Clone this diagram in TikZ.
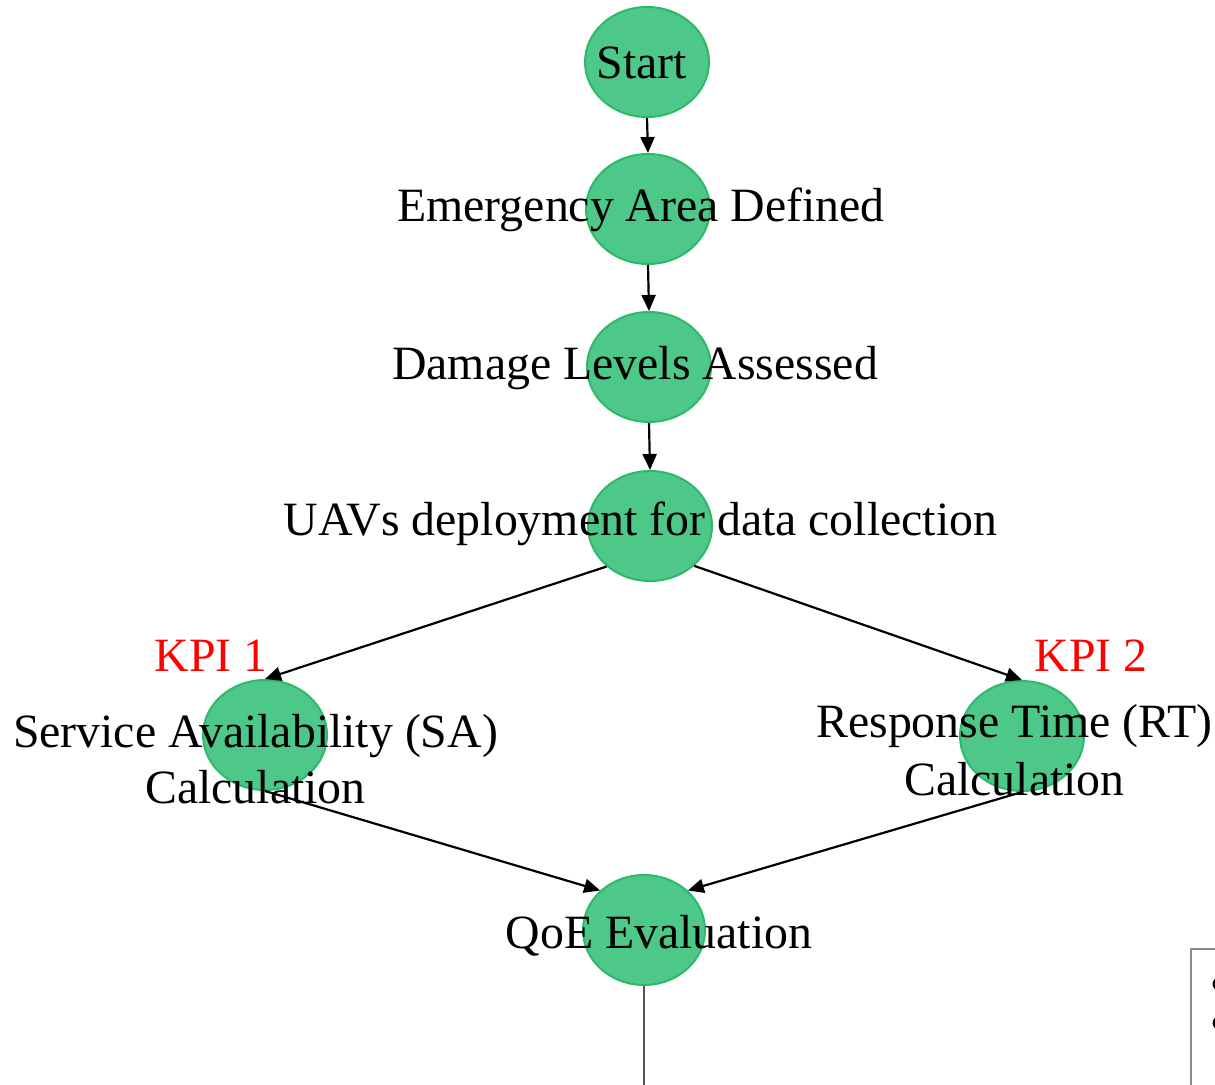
\documentclass[tikz,border=0pt]{standalone}
\usepackage{fontspec}
\setmainfont{Liberation Serif}
\usetikzlibrary{arrows.meta,shapes.geometric}
\definecolor{nodefill}{RGB}{77,200,136}
\definecolor{nodeline}{RGB}{46,184,106}
\definecolor{boxline}{RGB}{140,140,140}
\definecolor{stemline}{RGB}{85,85,85}
\tikzset{
  flownode/.style={ellipse, draw=nodeline, fill=nodefill, line width=2pt,
    minimum width=124pt, minimum height=110pt, inner sep=0pt},
  lbl/.style={anchor=base, inner sep=0pt, font=\fontsize{47.8}{56}\selectfont},
  kpi/.style={lbl, text=red},
  flowarrow/.style={draw=black, line width=2.2pt, -{Triangle[length=16pt,width=14pt]}},
}
\begin{document}
\begin{tikzpicture}[x=1pt,y=1pt]
\useasboundingbox (0,0) rectangle (1215,-1084);
\clip (0,0) rectangle (1215,-1084);
% nodes (circles)
\node[flownode] (start) at (647,-62) {};
\node[flownode] (emer) at (648,-209) {};
\node[flownode] (dmg) at (649,-367) {};
\node[flownode] (uav) at (650,-526) {};
\node[flownode] (sa) at (265,-735) {};
\node[flownode] (rt) at (1022,-736) {};
\node[flownode, minimum width=122pt] (qoe) at (644,-930) {};
\coordinate (stemend) at (644,-1090);
% connectors
\draw[flowarrow] (start.south) -- (emer.north);
\draw[flowarrow] (emer.south) -- (dmg.north);
\draw[flowarrow] (dmg.south) -- (uav.north);
\draw[flowarrow] (uav.223) -- (sa.north);
\draw[flowarrow] (uav.318) -- (rt.north);
\draw[flowarrow] (sa.south) -- (qoe.138);
\draw[flowarrow] (rt.south) -- (qoe.42);
\draw[draw=stemline, line width=1.5pt] (qoe.south) -- (stemend);
% labels
\node[lbl] (tstart) at (642,-78) {Start};
\node[lbl] (temer) at (641,-221) {Emergency Area Defined};
\node[lbl] (tdmg) at (635,-379) {Damage Levels Assessed};
\node[lbl] (tuav) at (640.5,-535) {UAVs deployment for data collection};
\node[kpi] (kpione) at (211,-671) {KPI 1};
\node[kpi] (kpitwo) at (1091,-671) {KPI 2};
\node[lbl] (tsa1) at (255.5,-747) {Service Availability (SA)};
\node[lbl] (tsa2) at (255.5,-803) {Calculation};
\node[lbl] (trt1) at (1014.5,-737) {Response Time (RT)};
\node[lbl] (trt2) at (1014.5,-795) {Calculation};
\node[lbl] (tqoe) at (659,-948) {QoE Evaluation};
% partial legend box at lower right
\node[draw=boxline, line width=1.5pt, anchor=north west, minimum width=200pt, minimum height=200pt, inner sep=0pt] (legend) at (1190,-948) {};
\fill[black] (1219,-984) circle (6.5pt);
\fill[black] (1219,-1023) circle (6.5pt);
\end{tikzpicture}
\end{document}
